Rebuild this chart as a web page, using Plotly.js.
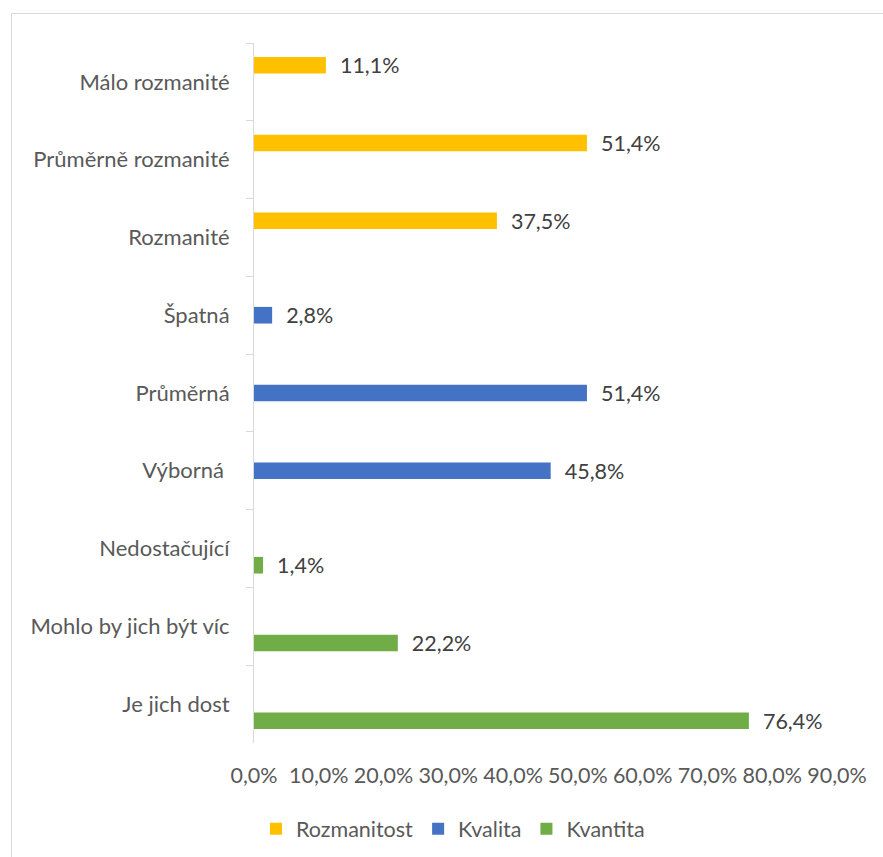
<!DOCTYPE html>
<html>
<head>
<meta charset="utf-8">
<script src="https://cdn.plot.ly/plotly-3.0.1.min.js"></script>
<style>
  html, body { margin: 0; padding: 0; background: #ffffff; }
  #frame { position: absolute; left: 11px; top: 13px; width: 1000px; height: 1000px;
           border-left: 1px solid #d9d9d9; border-top: 1px solid #d9d9d9; }
  #chart { position: absolute; left: 0; top: 0; width: 883px; height: 857px; }
</style>
</head>
<body>
<div id="frame"></div>
<div id="chart"></div>
<script>
// Categories, top to bottom
const categories = [
  "Málo rozmanité", "Průměrně rozmanité", "Rozmanité",
  "Špatná", "Průměrná", "Výborná\u00a0",
  "Nedostačující", "Mohlo by jich být víc", "Je jich dost"
];
const rozmanitostCats = ["Málo rozmanité", "Průměrně rozmanité", "Rozmanité"];
const rozmanitostVals = [0.111, 0.514, 0.375];
const kvalitaCats = ["Špatná", "Průměrná", "Výborná\u00a0"];
const kvalitaVals = [0.028, 0.514, 0.458];
const kvantitaCats = ["Nedostačující", "Mohlo by jich být víc", "Je jich dost"];
const kvantitaVals = [0.014, 0.222, 0.764];
const seriesNames = ["Rozmanitost", "Kvalita", "Kvantita"];
const seriesColors = ["#FFC000", "#4472C4", "#70AD47"];
const xTicks = [0, 0.1, 0.2, 0.3, 0.4, 0.5, 0.6, 0.7, 0.8, 0.9];

const FONT = "Lato, 'Open Sans', sans-serif";
const FS = 21.5;
const ys = [rozmanitostCats, kvalitaCats, kvantitaCats];
const xs = [rozmanitostVals, kvalitaVals, kvantitaVals];
// clustered layout: three bar slots per category
const barW = 0.214;
const barOffsets = [-1.5 * barW, -0.5 * barW, 0.5 * barW];

const traces = seriesNames.map((name, i) => ({
  type: "bar",
  orientation: "h",
  name: name,
  y: ys[i],
  x: xs[i],
  width: barW,
  offset: barOffsets[i],
  marker: { color: seriesColors[i] },
  texttemplate: "\u00a0\u00a0%{x:.1%}",
  textposition: "outside",
  constraintext: "none",
  cliponaxis: false,
  textfont: { family: FONT, size: FS, color: "#404040" },
  hoverinfo: "none"
}));

const layout = {
  width: 883,
  height: 857,
  margin: { l: 254, r: 46, t: 43, b: 114 },
  paper_bgcolor: "rgba(0,0,0,0)",
  plot_bgcolor: "rgba(0,0,0,0)",
  separators: ", ",
  barmode: "overlay",
  font: { family: FONT, size: FS, color: "#595959" },
  xaxis: {
    range: [0, 0.9],
    tickvals: xTicks,
    tickformat: ".1%",
    showgrid: false,
    zeroline: false,
    showline: false,
    ticks: "outside",
    ticklen: 13,
    tickcolor: "rgba(0,0,0,0)",
    tickfont: { family: FONT, size: FS, color: "#595959" }
  },
  yaxis: {
    type: "category",
    categoryorder: "array",
    categoryarray: categories,
    range: [categories.length - 0.5, -0.5],
    showline: true,
    linecolor: "#d9d9d9",
    linewidth: 1,
    ticks: "outside",
    tickson: "boundaries",
    ticklen: 7,
    tickcolor: "#d9d9d9",
    tickwidth: 1,
    showgrid: false,
    zeroline: false,
    ticklabelstandoff: 19,
    tickfont: { family: FONT, size: 22, color: "#595959" }
  },
  showlegend: true,
  legend: {
    orientation: "h",
    xref: "container",
    yref: "container",
    x: 0.513,
    xanchor: "center",
    y: 0.033,
    yanchor: "middle",
    font: { family: FONT, size: FS, color: "#595959" },
    itemwidth: 30,
    tracegroupgap: 0
  }
};

Plotly.newPlot("chart", traces, layout, { displayModeBar: false, staticPlot: true });
</script>
</body>
</html>
